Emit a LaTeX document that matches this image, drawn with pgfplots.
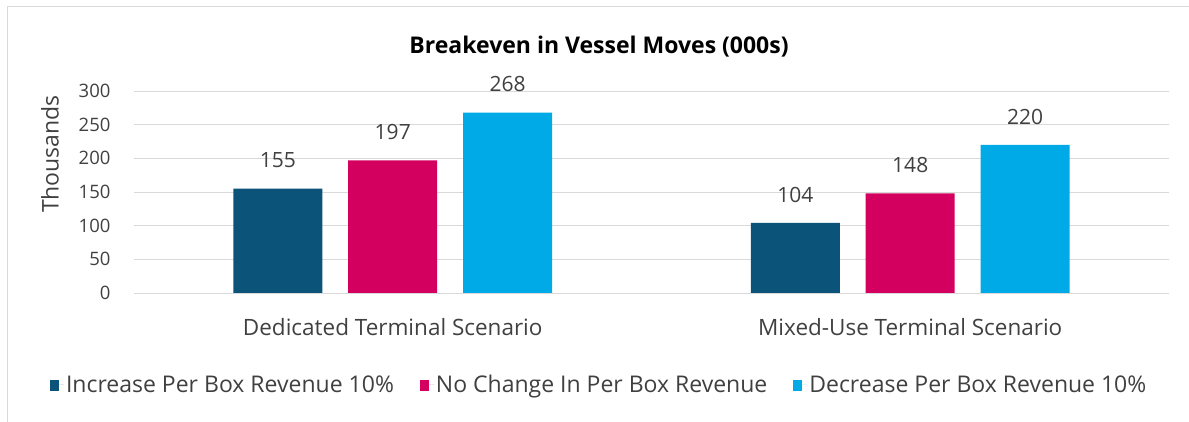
\documentclass[border=0pt]{standalone}
\usepackage{pgfplots}
\pgfplotsset{compat=1.18}
\usepackage{fontspec}
\setmainfont{Open Sans}
\definecolor{cA}{RGB}{11,83,120}
\definecolor{cB}{RGB}{212,0,96}
\definecolor{cC}{RGB}{0,170,230}
\definecolor{gridc}{RGB}{217,217,217}
\definecolor{txt}{RGB}{64,64,64}
\begin{document}
\begin{tikzpicture}[x=1pt,y=1pt]
\useasboundingbox (0,0) rectangle (1189,422);
\draw[gridc, line width=1pt] (7,0) -- (7,415) -- (1189,415);
\node[font=\fontsize{23}{27}\selectfont\bfseries, text=black] at (599,375) {Breakeven in Vessel Moves (000s)};
\begin{axis}[
  at={(134pt,129pt)}, anchor=south west,
  scale only axis, width=1035pt, height=202pt,
  xmin=-0.5, xmax=1.5, ymin=0, ymax=300,
  xtick={0,1}, xticklabels={Dedicated Terminal Scenario, Mixed-Use Terminal Scenario},
  ytick={0,50,...,300},
  ymajorgrids, grid style={gridc, line width=0.8pt},
  axis line style={draw=none},
  axis x line*=bottom, axis y line*=left,
  x axis line style={draw=gridc, line width=0.8pt},
  major tick length=0pt,
  yticklabel style={font=\fontsize{18.5}{22}\selectfont, text=txt, xshift=-20pt},
  xticklabel style={font=\fontsize{22.5}{26}\selectfont, text=txt, yshift=-22pt},
  /pgf/number format/assume math mode=true,
  ylabel={Thousands}, ylabel style={font=\fontsize{23}{27}\selectfont, text=txt, yshift=13pt, xshift=38pt},
  ybar, bar width=0.172,
  nodes near coords, every node near coord/.append style={font=\fontsize{21}{25}\selectfont, text=txt, yshift=17pt},
  legend columns=3,
  legend style={draw=none, fill=none, at={(0.4495,-0.455)}, anchor=center, font=\fontsize{23}{27}\selectfont, text=txt, /tikz/every even column/.append style={column sep=24pt}},
  legend image code/.code={\fill[#1] (0pt,-6pt) rectangle (9pt,5pt); \path (9pt,0pt) -- (14pt,0pt);},
]
\addplot[draw=none, fill=cA, bar shift=-0.222] coordinates {(0,155) (1,104)};
\addplot[draw=none, fill=cB, bar shift=0] coordinates {(0,197) (1,148)};
\addplot[draw=none, fill=cC, bar shift=0.222] coordinates {(0,268) (1,220)};
\legend{Increase Per Box Revenue 10\%, No Change In Per Box Revenue, Decrease Per Box Revenue 10\%}
\end{axis}
\end{tikzpicture}
\end{document}
